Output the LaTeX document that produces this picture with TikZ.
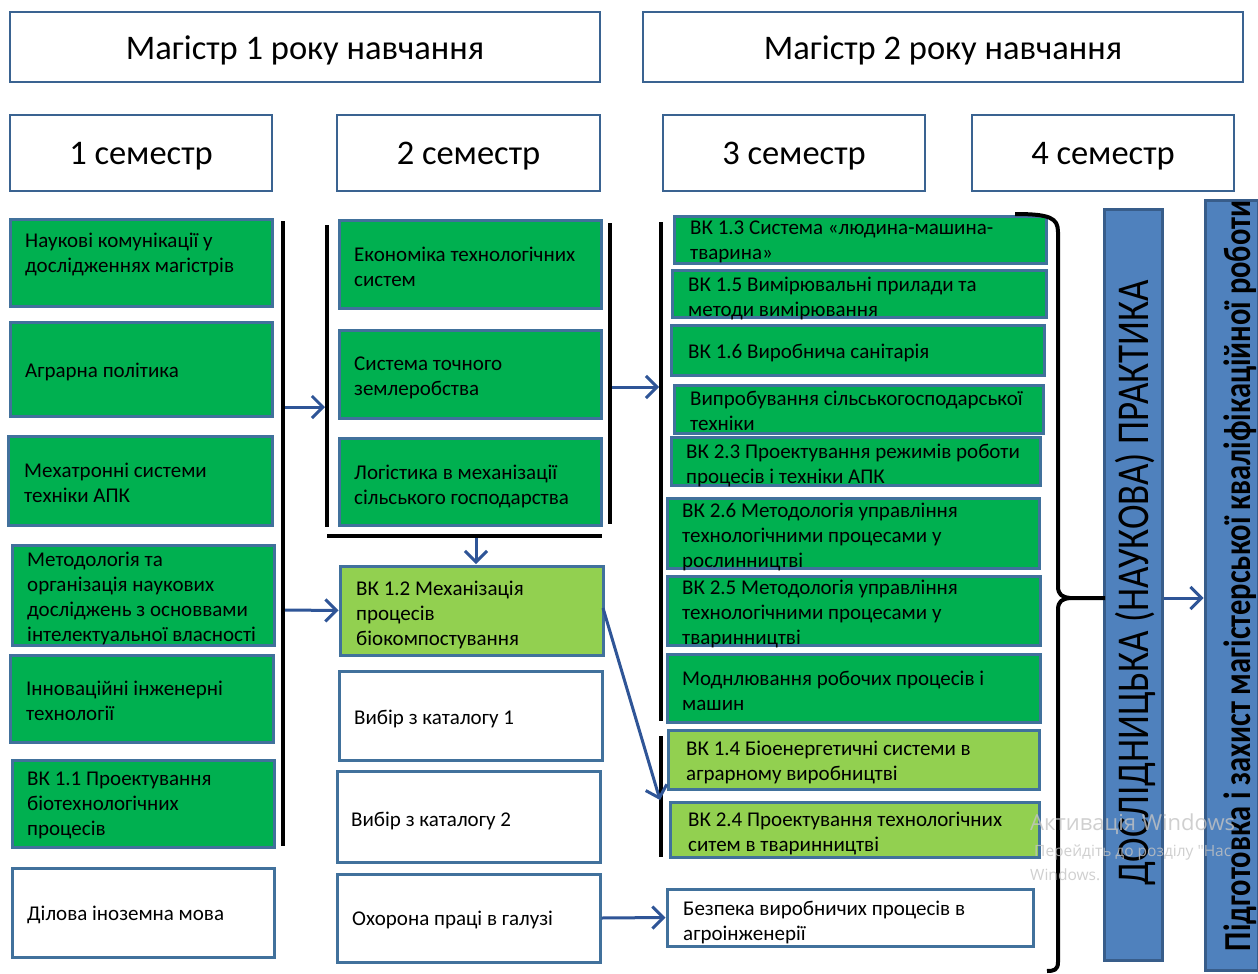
\documentclass[tikz,border=0pt]{standalone}
\usepackage{fontspec}
\setmainfont{Carlito}
\newfontfamily\wmfont{Open Sans}
\usetikzlibrary{arrows.meta,fit}
\definecolor{gfill}{HTML}{00B050}
\definecolor{lgfill}{HTML}{92D050}
\definecolor{bord}{HTML}{41719C}
\definecolor{hbord}{HTML}{3A6391}
\definecolor{bfill}{HTML}{4F81BD}
\definecolor{bbord}{HTML}{385D8A}
\definecolor{arrc}{HTML}{2F5597}
\definecolor{wmc}{HTML}{C4C4C4}
\tikzset{
  anybox/.style={draw=bord, line width=3pt, inner sep=0pt},
  gbox/.style={anybox, fill=gfill},
  lbox/.style={anybox, fill=lgfill},
  wbox/.style={anybox, fill=white},
  hbox/.style={draw=hbord, line width=2.5pt, inner sep=0pt, fill=white},
  vbox/.style={draw=bbord, line width=3pt, inner sep=0pt, fill=bfill},
  ttl/.style={font=\fontsize{34.5}{40}\selectfont, inner sep=0pt, yshift=-3pt},
  tx/.style={anchor=north west, align=left, inner sep=0pt,
    font=\fontsize{21}{25}\selectfont, execute at begin node=\strut},
  bar/.style={line width=4pt, black},
  arr/.style={draw=arrc, line width=3pt, -{Straight Barb[length=11pt,width=22pt]}},
}
\begin{document}
\begin{tikzpicture}[x=1pt,y=-1pt]
\useasboundingbox (0,0) rectangle (1258,974);
\fill[white] (0,0) rectangle (1258,974);

% headers
\node[hbox, fit={(10,12) (600,82)}] (m1) {};
\node[ttl] (m1t) at (m1.center) {Магістр 1 року навчання};
\node[hbox, fit={(643,12) (1243,82)}] (m2) {};
\node[ttl] (m2t) at (m2.center) {Магістр 2 року навчання};
\node[hbox, fit={(10,115) (272,191)}] (s1) {};
\node[ttl] (s1t) at (s1.center) {1 семестр};
\node[hbox, fit={(337,115) (600,191)}] (s2) {};
\node[ttl] (s2t) at (s2.center) {2 семестр};
\node[hbox, fit={(663,115) (925,191)}] (s3) {};
\node[ttl] (s3t) at (s3.center) {3 семестр};
\node[hbox, fit={(972,115) (1234,191)}] (s4) {};
\node[ttl] (s4t) at (s4.center) {4 семестр};

% column 1
\node[gbox, fit={(10,219) (272,306)}] (c1a) {};
\node[tx] (c1at) at (25,233) {Наукові комунікації у\\дослідженнях магістрів};
\node[gbox, fit={(10,322) (272,416)}] (c1b) {};
\node[tx] (c1bt) at (25,359.5) {Аграрна політика};
\node[gbox, fit={(8,436) (272,525)}] (c1c) {};
\node[tx] (c1ct) at (24,462.5) {Мехатронні системи\\техніки АПК};
\node[gbox, fit={(12,545) (274,645)}] (c1d) {};
\node[tx] (c1dt) at (27,551.5) {Методологія та\\організація наукових\\досліджень з основвами\\інтелектуальної власності};
\node[gbox, fit={(10,655) (273,742)}] (c1e) {};
\node[tx] (c1et) at (26,680.5) {Інноваційні інженерні\\технології};
\node[gbox, fit={(12,760) (274,847)}] (c1f) {};
\node[tx] (c1ft) at (27,771.5) {ВК 1.1 Проектування\\біотехнологічних\\процесів};
\node[wbox, fit={(12,868) (274,957)}] (c1g) {};
\node[tx] (c1gt) at (27,902.5) {Ділова іноземна мова};

% column 2
\node[gbox, fit={(339,220) (601,308)}] (c2a) {};
\node[tx] (c2at) at (354,246.5) {Економіка технологічних\\систем};
\node[gbox, fit={(339,330) (601,418)}] (c2b) {};
\node[tx] (c2bt) at (354,356.5) {Система точного\\землеробства};
\node[gbox, fit={(339,438) (601,525)}] (c2c) {};
\node[tx] (c2ct) at (354,464.5) {Логістика в механізації\\сільського господарства};
\node[lbox, fit={(340,566) (603,655)}] (c2d) {};
\node[tx] (c2dt) at (356,580.5) {ВК 1.2 Механізація\\процесів\\біокомпостування};
\node[wbox, fit={(339,671) (602,760)}] (c2e) {};
\node[tx] (c2et) at (354,706.5) {Вибір з каталогу 1};
\node[wbox, fit={(337,771) (600,862)}] (c2f) {};
\node[tx] (c2ft) at (351,808.5) {Вибір з каталогу 2};
\node[wbox, fit={(337,874) (600,962)}] (c2g) {};
\node[tx] (c2gt) at (352,907.5) {Охорона праці в галузі};

% column 3
\node[gbox, fit={(674,216) (1046,263)}] (c3a) {};
\node[tx] (c3at) at (690,221) {ВК 1.3 Система «людина-машина-\\тварина»};
\node[gbox, fit={(672,270) (1046,317)}] (c3b) {};
\node[tx] (c3bt) at (688,276.5) {ВК 1.5 Вимірювальні прилади та\\методи вимірювання};
\node[gbox, fit={(671,325) (1044,375)}] (c3c) {};
\node[tx] (c3ct) at (688,340.5) {ВК 1.6 Виробнича санітарія};
\node[gbox, fit={(674,385) (1043,433)}] (c3d) {};
\node[tx] (c3dt) at (690,390.5) {Випробування сільськогосподарської\\техніки};
\node[gbox, fit={(671,437) (1040,485)}] (c3e) {};
\node[tx] (c3et) at (686,443.5) {ВК 2.3 Проектування режимів роботи\\процесів і техніки АПК};
\node[gbox, fit={(667,498) (1039,568)}] (c3f) {};
\node[tx] (c3ft) at (682,502.5) {ВК 2.6 Методологія управління\\технологічними процесами у\\рослинництві};
\node[gbox, fit={(667,576) (1040,645)}] (c3g) {};
\node[tx] (c3gt) at (682,579.5) {ВК 2.5 Методологія управління\\технологічними процесами у\\тваринництві};
\node[gbox, fit={(667,654) (1040,722)}] (c3h) {};
\node[tx] (c3ht) at (682,670.5) {Моднлювання робочих процесів і\\машин};
\node[lbox, fit={(668,730) (1039,789)}] (c3i) {};
\node[tx] (c3it) at (686,740.5) {ВК 1.4 Біоенергетичні системи в\\аграрному виробництві};
\node[lbox, fit={(670,802) (1039,857)}] (c3j) {};
\node[tx] (c3jt) at (688,811.5) {ВК 2.4 Проектування технологічних\\ситем в тваринництві};
\node[wbox, fit={(667,889) (1033,946)}] (c3k) {};
\node[tx] (c3kt) at (683,900.5) {Безпека виробничих процесів в\\агроінженерії};

% vertical blue boxes
\node[vbox, fit={(1104,209) (1162,960)}] (dosl) {};
\node[rotate=90, inner sep=0pt, font=\fontsize{37}{42}\selectfont] (doslt) at (1135,583)
  {\scalebox{1}[1.23]{ДОСЛІДНИЦЬКА (НАУКОВА) ПРАКТИКА}};
\node[vbox, fit={(1205,200) (1258,970)}] (pidg) {};
\node[rotate=90, inner sep=0pt, font=\bfseries\fontsize{30.5}{34}\selectfont] (pidgt) at (1240,576)
  {\scalebox{1}[1.25]{Підготовка і захист магістерської кваліфікаційної роботи}};

% black bars
\coordinate (b1t) at (283,221); \coordinate (b1b) at (283,846);
\draw[bar] (b1t) -- (b1b);
\coordinate (b2t) at (327,225); \coordinate (b2b) at (327,527);
\draw[bar] (b2t) -- (b2b);
\coordinate (b3t) at (610,223); \coordinate (b3b) at (610,524);
\draw[bar] (b3t) -- (b3b);
\coordinate (b4l) at (327,536); \coordinate (b4r) at (602,536);
\draw[bar] (b4l) -- (b4r);
\coordinate (b5t) at (661,222); \coordinate (b5b) at (661,721);
\draw[bar] (b5t) -- (b5b);
\coordinate (b6t) at (661,736); \coordinate (b6b) at (661,857);
\draw[bar] (b6t) -- (b6b);

% brace
\coordinate (brtip) at (1105,598);
\draw[bar, line join=round] (1015,214) .. controls (1050,214) and (1058,218) .. (1058,232)
  -- (1058,586) .. controls (1058,595) and (1062,597) .. (1070,598) -- (brtip);
\draw[bar, line join=round] (1070,598) .. controls (1062,599) and (1058,601) .. (1058,610)
  -- (1058,962) .. controls (1058,970) and (1054,971) .. (1047,971);

% arrows
\coordinate (a1s) at (285,407); \coordinate (a1e) at (325,407);
\draw[arr] (a1s) -- (a1e);
\coordinate (a2s) at (285,610);
\draw[arr] (a2s) -- (c2d.west);
\coordinate (a3s) at (476,538); \coordinate (a3e) at (476,564);
\draw[arr] (a3s) -- (a3e);
\coordinate (a4s) at (612,387); \coordinate (a4e) at (659,387);
\draw[arr] (a4s) -- (a4e);
\coordinate (a5s) at (603,608); \coordinate (a5e) at (660,800);
\draw[arr] (a5s) -- (a5e);
\draw[arr] (c2g.east) -- (c3k.west);
\draw[arr] (dosl.east |- brtip) -- (pidg.west |- brtip);

% watermark
\node[anchor=base west, inner sep=0pt, text=wmc, text opacity=0.8, font=\wmfont\fontsize{22}{26}\selectfont] (wm1) at (1030,830) {Активація Windows};
\node[anchor=base west, inner sep=0pt, text=wmc, text opacity=0.8, font=\wmfont\fontsize{15.5}{18}\selectfont] (wm2) at (1034,856) {Перейдіть до розділу "Нас};
\node[anchor=base west, inner sep=0pt, text=wmc, text opacity=0.8, font=\wmfont\fontsize{15.5}{18}\selectfont] (wm3) at (1030,880) {Windows.};
\end{tikzpicture}
\end{document}
